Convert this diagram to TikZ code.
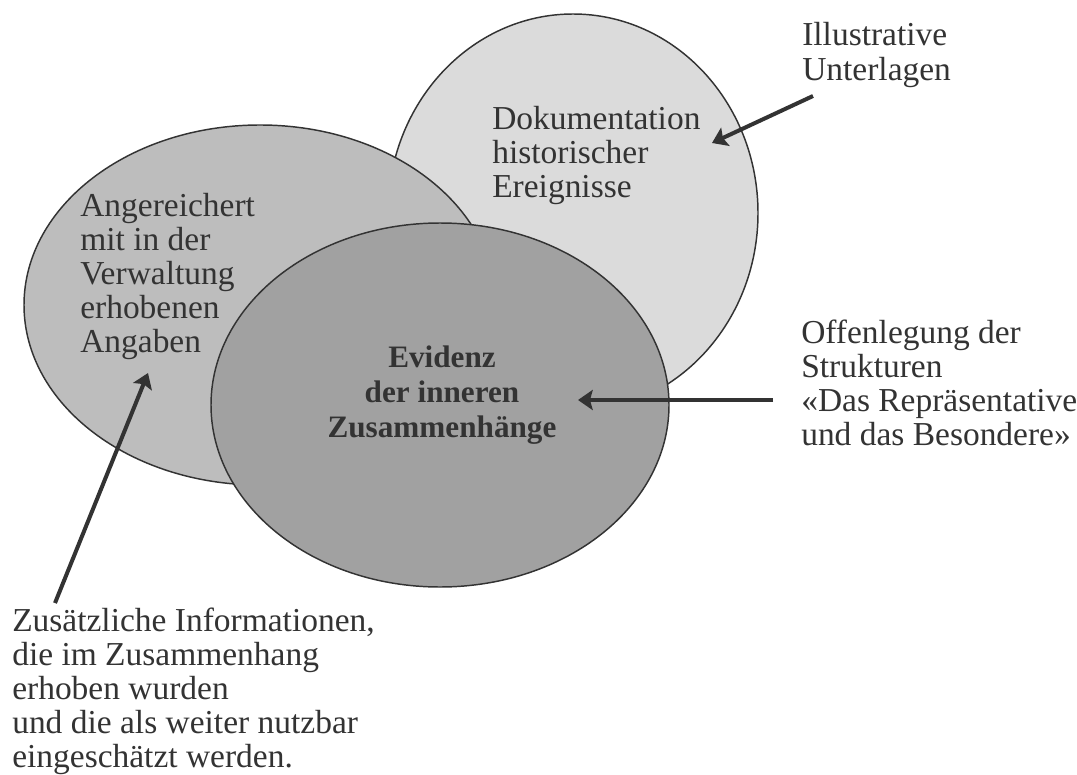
\documentclass[tikz,border=0pt]{standalone}
\usepackage{fontspec}
\setmainfont{Liberation Serif}
\usetikzlibrary{arrows.meta,shapes.geometric}
\definecolor{lightfill}{gray}{0.86}
\definecolor{midfill}{gray}{0.74}
\definecolor{darkfill}{gray}{0.63}
\definecolor{edgeink}{gray}{0.2}
\definecolor{textink}{gray}{0.2}
\begin{document}
\begin{tikzpicture}[x=0.75pt,y=-0.75pt,
  blob/.style={ellipse, draw=edgeink, line width=1.1pt, inner sep=0pt},
  lbl/.style={inner sep=0pt, align=left, anchor=base west, text=textink,
    font=\fontsize{25.1pt}{25.5pt}\selectfont},
  boldlbl/.style={inner sep=0pt, align=center, anchor=base, text=textink,
    font=\fontsize{23.4pt}{26pt}\selectfont\bfseries},
  pointer/.style={draw=edgeink, line width=3pt,
    -{Stealth[length=11pt,width=15pt,inset=2pt]}}]
\useasboundingbox (0,0) rectangle (1077,774);
\fill[white] (0,0) rectangle (1077,774);
% ellipses
\node[blob, fill=lightfill, minimum width=277.5pt, minimum height=298.5pt] (doc) at (573,213) {};
\node[blob, fill=midfill, minimum width=354pt, minimum height=270pt] (verw) at (260,305) {};
\node[blob, fill=darkfill, minimum width=343.5pt, minimum height=273pt] (evi) at (440,405) {};
% texts (anchored at the baseline of the last line)
\node[lbl] (doctext) at (492,197) {Dokumentation\\historischer\\Ereignisse};
\node[lbl] (verwtext) at (80,352) {Angereichert\\mit in der\\Verwaltung\\erhobenen\\Angaben};
\node[boldlbl] (evitext) at (442,437) {Evidenz\\der inneren\\Zusammenhänge};
\node[lbl] (illus) at (802,80) {Illustrative\\Unterlagen};
\node[lbl] (offen) at (801,445) {Offenlegung der\\Strukturen\\«Das Repräsentative\\und das Besondere»};
\node[lbl] (zusatz) at (12,767) {Zusätzliche Informationen,\\die im Zusammenhang\\erhoben wurden\\und die als weiter nutzbar\\eingeschätzt werden.};
% arrow ends
\coordinate (illusstart) at (813,96);
\coordinate (doctip) at (712,143);
\coordinate (offenstart) at (773,400);
\coordinate (evitip) at (578,400);
\coordinate (zusatzstart) at (55,603);
\coordinate (verwtip) at (148,373);
\draw[pointer] (illusstart) -- (doctip);
\draw[pointer] (offenstart) -- (evitip);
\draw[pointer] (zusatzstart) -- (verwtip);
\end{tikzpicture}
\end{document}
